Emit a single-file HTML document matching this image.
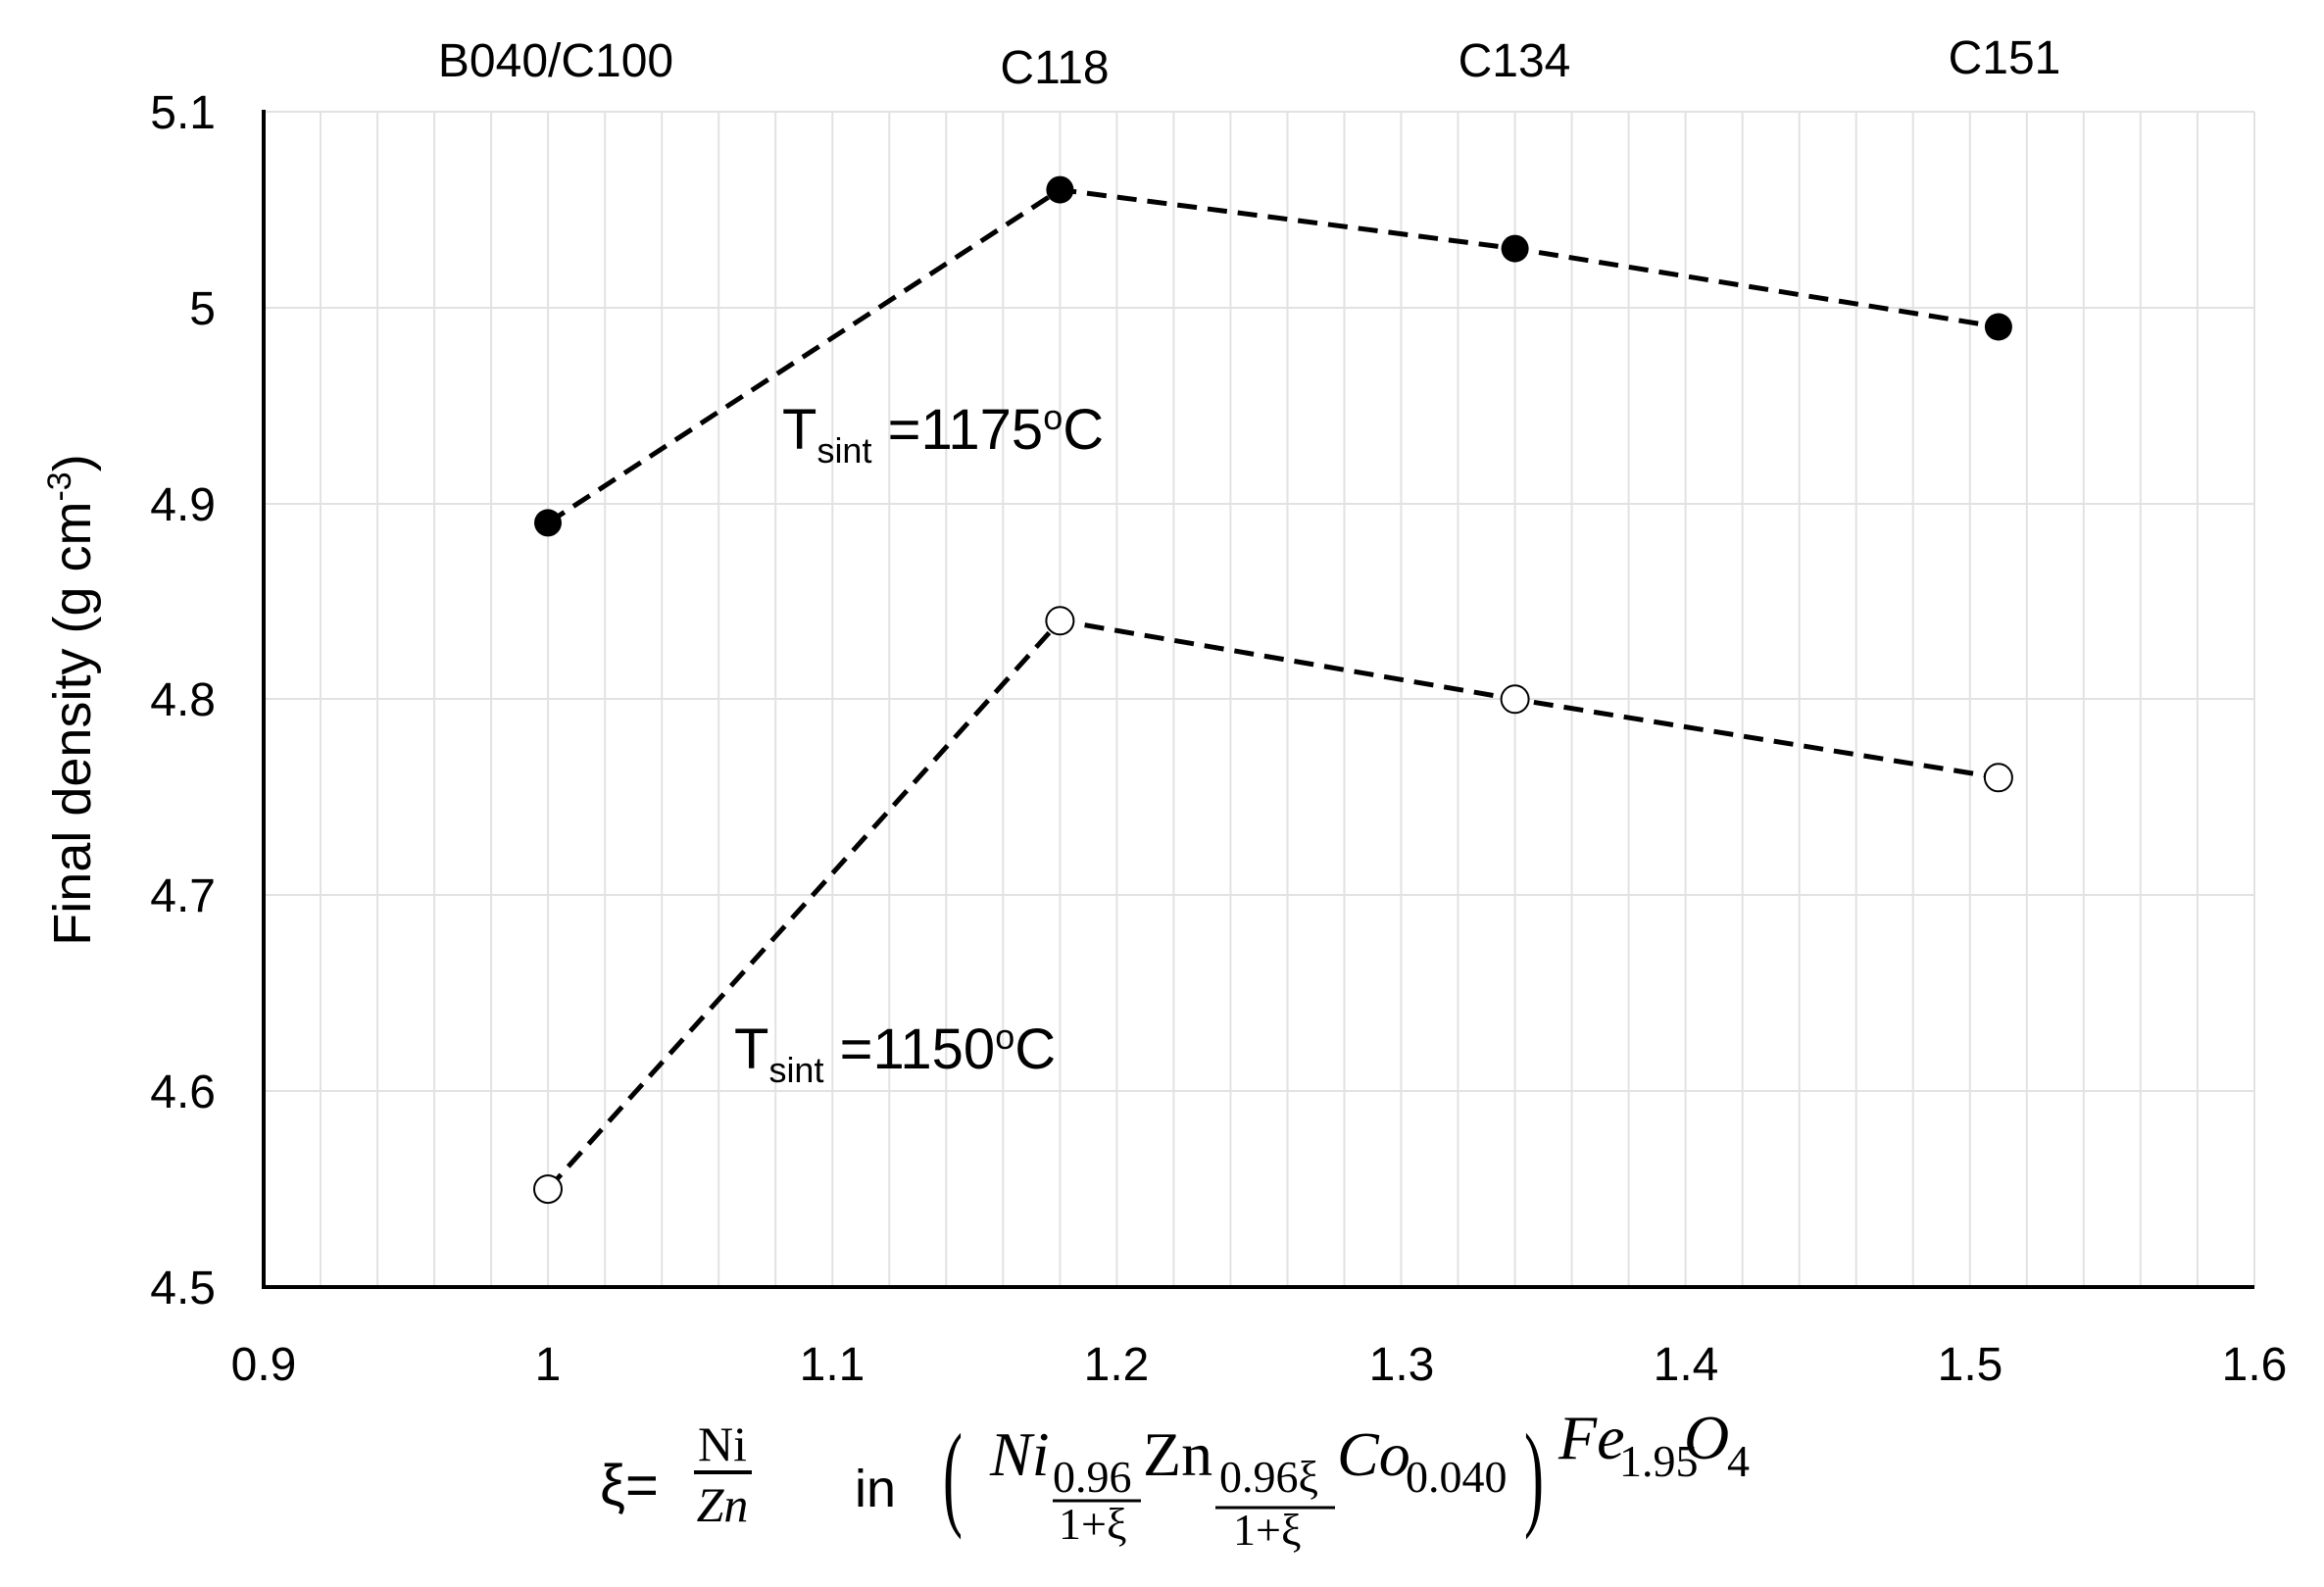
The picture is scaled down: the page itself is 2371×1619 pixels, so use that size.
<!DOCTYPE html>
<html><head><meta charset="utf-8"><style>
html,body{margin:0;padding:0;background:#fff;}
svg{display:block;}
text{font-family:"Liberation Sans","DejaVu Sans",sans-serif;fill:#000;}
.m{font-family:"Liberation Serif",serif;}
</style></head><body>
<svg width="2371" height="1619" viewBox="0 0 2371 1619" xmlns="http://www.w3.org/2000/svg">
<rect width="2371" height="1619" fill="#fff"/>
<g stroke="#e2e2e2" stroke-width="2" id="g"></g>
<g stroke="#e2e2e2" stroke-width="2">
<line x1="327" y1="114" x2="327" y2="1313"/><line x1="385.1" y1="114" x2="385.1" y2="1313"/><line x1="443.1" y1="114" x2="443.1" y2="1313"/><line x1="501.1" y1="114" x2="501.1" y2="1313"/><line x1="559.1" y1="114" x2="559.1" y2="1313"/>
<line x1="617.2" y1="114" x2="617.2" y2="1313"/><line x1="675.2" y1="114" x2="675.2" y2="1313"/><line x1="733.2" y1="114" x2="733.2" y2="1313"/><line x1="791.2" y1="114" x2="791.2" y2="1313"/><line x1="849.3" y1="114" x2="849.3" y2="1313"/>
<line x1="907.3" y1="114" x2="907.3" y2="1313"/><line x1="965.3" y1="114" x2="965.3" y2="1313"/><line x1="1023.3" y1="114" x2="1023.3" y2="1313"/><line x1="1081.4" y1="114" x2="1081.4" y2="1313"/><line x1="1139.4" y1="114" x2="1139.4" y2="1313"/>
<line x1="1197.4" y1="114" x2="1197.4" y2="1313"/><line x1="1255.4" y1="114" x2="1255.4" y2="1313"/><line x1="1313.5" y1="114" x2="1313.5" y2="1313"/><line x1="1371.5" y1="114" x2="1371.5" y2="1313"/><line x1="1429.5" y1="114" x2="1429.5" y2="1313"/>
<line x1="1487.5" y1="114" x2="1487.5" y2="1313"/><line x1="1545.6" y1="114" x2="1545.6" y2="1313"/><line x1="1603.6" y1="114" x2="1603.6" y2="1313"/><line x1="1661.6" y1="114" x2="1661.6" y2="1313"/><line x1="1719.6" y1="114" x2="1719.6" y2="1313"/>
<line x1="1777.7" y1="114" x2="1777.7" y2="1313"/><line x1="1835.7" y1="114" x2="1835.7" y2="1313"/><line x1="1893.7" y1="114" x2="1893.7" y2="1313"/><line x1="1951.7" y1="114" x2="1951.7" y2="1313"/><line x1="2009.8" y1="114" x2="2009.8" y2="1313"/>
<line x1="2067.8" y1="114" x2="2067.8" y2="1313"/><line x1="2125.8" y1="114" x2="2125.8" y2="1313"/><line x1="2183.8" y1="114" x2="2183.8" y2="1313"/><line x1="2241.9" y1="114" x2="2241.9" y2="1313"/><line x1="2300" y1="114" x2="2300" y2="1313"/>
<line x1="269" y1="114" x2="2300" y2="114"/><line x1="269" y1="314" x2="2300" y2="314"/><line x1="269" y1="514" x2="2300" y2="514"/><line x1="269" y1="713" x2="2300" y2="713"/><line x1="269" y1="913" x2="2300" y2="913"/><line x1="269" y1="1113" x2="2300" y2="1113"/>
</g>
<g stroke="#000" stroke-width="4"><line x1="269" y1="112" x2="269" y2="1315"/><line x1="267" y1="1313" x2="2300" y2="1313"/></g>
<g font-size="48" text-anchor="end">
<text x="220" y="131">5.1</text><text x="220" y="331">5</text><text x="220" y="531">4.9</text><text x="220" y="730">4.8</text><text x="220" y="930">4.7</text><text x="220" y="1130">4.6</text><text x="220" y="1330">4.5</text>
</g>
<g font-size="48" text-anchor="middle">
<text x="269" y="1408">0.9</text><text x="559" y="1408">1</text><text x="849" y="1408">1.1</text><text x="1139" y="1408">1.2</text><text x="1430" y="1408">1.3</text><text x="1720" y="1408">1.4</text><text x="2010" y="1408">1.5</text><text x="2300" y="1408">1.6</text>
<text x="567" y="78">B040/C100</text><text x="1076" y="85">C118</text><text x="1545" y="78">C134</text><text x="2045" y="75">C151</text>
</g>
<text transform="translate(92,714) rotate(-90)" font-size="54" text-anchor="middle">Final density (g cm<tspan dy="-20" font-size="34">-3</tspan><tspan dy="20">)</tspan></text>
<g fill="none" stroke="#000" stroke-width="5" stroke-dasharray="20,11">
<polyline points="559,533.4 1081.4,193.6 1545.6,253.6 2038.9,333.5"/>
<polyline points="559,1213.1 1081.4,633.3 1545.6,713.3 2038.9,793.3"/>
</g>
<g fill="#000"><circle cx="559" cy="533.4" r="14"/><circle cx="1081.4" cy="193.6" r="14"/><circle cx="1545.6" cy="253.6" r="14"/><circle cx="2038.9" cy="333.5" r="14"/></g>
<g fill="#fff" stroke="#000" stroke-width="2"><circle cx="559" cy="1213.1" r="14"/><circle cx="1081.4" cy="633.3" r="14"/><circle cx="1545.6" cy="713.3" r="14"/><circle cx="2038.9" cy="793.3" r="14"/></g>
<text x="798" y="458" font-size="58">T<tspan dy="14" font-size="36">sint</tspan><tspan dy="-14"> =1175</tspan><tspan dy="-20" font-size="36">o</tspan><tspan dy="20">C</tspan></text>
<text x="749" y="1090" font-size="58">T<tspan dy="14" font-size="36">sint</tspan><tspan dy="-14"> =1150</tspan><tspan dy="-20" font-size="36">o</tspan><tspan dy="20">C</tspan></text>
<text x="612" y="1535" font-size="58">ξ=</text>
<text class="m" x="737" y="1490" font-size="50" text-anchor="middle">Ni</text>
<line x1="708" y1="1502" x2="767" y2="1502" stroke="#000" stroke-width="4"/>
<text class="m" x="737" y="1552" font-size="50" text-anchor="middle" font-style="italic">Zn</text>
<text x="872" y="1537" font-size="54">in</text>
<text class="m" x="962" y="1545" font-size="120" transform="translate(962,1545) scale(0.5,1) translate(-962,-1545)">(</text>
<text class="m" x="1010" y="1505" font-size="64" font-style="italic">Ni</text>
<text class="m" x="1074" y="1522" font-size="46">0.96</text>
<line x1="1074" y1="1531" x2="1164" y2="1531" stroke="#000" stroke-width="3"/>
<text class="m" x="1080" y="1570" font-size="46">1+ξ</text>
<text class="m" x="1166" y="1505" font-size="64">Zn</text>
<text class="m" x="1244" y="1522" font-size="46">0.96ξ</text>
<line x1="1240" y1="1538" x2="1362" y2="1538" stroke="#000" stroke-width="3"/>
<text class="m" x="1258" y="1576" font-size="46">1+ξ</text>
<text class="m" x="1364" y="1505" font-size="64" font-style="italic">Co</text>
<text class="m" x="1434" y="1522" font-size="46">0.040</text>
<text class="m" x="1555" y="1545" font-size="120" transform="translate(1555,1545) scale(0.5,1) translate(-1555,-1545)">)</text>
<text class="m" x="1590" y="1488" font-size="64" font-style="italic">Fe</text>
<text class="m" x="1652" y="1506" font-size="46">1.95</text>
<text class="m" x="1718" y="1488" font-size="64" font-style="italic">O</text>
<text class="m" x="1762" y="1506" font-size="46">4</text>
</svg>
</body></html>
